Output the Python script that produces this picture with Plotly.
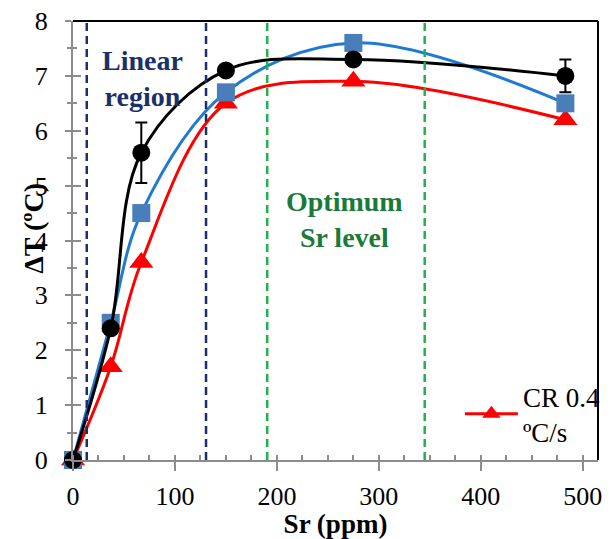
import plotly.graph_objects as go

# Sr addition (ppm) and undercooling ΔT (ºC) for three cooling rates
sr_ppm = [0, 37, 67, 150, 275, 483]
dt_black = [0, 2.4, 5.6, 7.1, 7.3, 7.0]
dt_black_err = [0, 0, 0.55, 0, 0, 0.3]
dt_blue = [0, 2.5, 4.5, 6.7, 7.6, 6.5]
dt_red = [0, 1.7, 3.6, 6.5, 6.9, 6.2]

# region boundaries (ppm)
linear_bounds = [13.5, 130.5]
optimum_bounds = [190.5, 345]

x_ticks = [0, 100, 200, 300, 400, 500]
y_ticks = [0, 1, 2, 3, 4, 5, 6, 7, 8]

FONT = "Liberation Serif"
GREY = "#8c8c8c"

fig = go.Figure()

fig.add_trace(go.Scatter(
    x=sr_ppm, y=dt_red, mode="lines+markers", name="CR 0.4<br>ºC/s",
    line=dict(color="#ff0000", width=3, shape="spline", smoothing=1),
    marker=dict(symbol="triangle-up", size=21, color="#ff0000"),
    cliponaxis=False,
))
fig.add_trace(go.Scatter(
    x=sr_ppm, y=dt_blue, mode="lines+markers", showlegend=False,
    line=dict(color="#1f7ad1", width=3, shape="spline", smoothing=1),
    marker=dict(symbol="square", size=18, color="#4a7ebb"),
    cliponaxis=False,
))
fig.add_trace(go.Scatter(
    x=sr_ppm, y=dt_black, mode="lines+markers", showlegend=False,
    line=dict(color="#000000", width=3, shape="spline", smoothing=1),
    marker=dict(symbol="circle", size=18, color="#000000"),
    error_y=dict(type="data", array=dt_black_err, visible=True,
                 color="#000000", thickness=2, width=6),
    cliponaxis=False,
))

# companion axes carry the inner half of the crossing tick marks
fig.add_trace(go.Scatter(x=[None], y=[None], xaxis="x2", yaxis="y2",
                         showlegend=False, hoverinfo="skip"))

for xv in linear_bounds:
    fig.add_shape(type="line", xref="x", yref="paper", x0=xv, x1=xv, y0=0, y1=1,
                  line=dict(color="#1b3068", width=2.5, dash="8px,5px"))
for xv in optimum_bounds:
    fig.add_shape(type="line", xref="x", yref="paper", x0=xv, x1=xv, y0=0, y1=1,
                  line=dict(color="#22b14c", width=2.5, dash="8px,5px"))

# black frame on top and right
fig.add_shape(type="line", xref="paper", yref="paper", x0=0, x1=1, y0=1, y1=1,
              line=dict(color="#000000", width=2))
fig.add_shape(type="line", xref="paper", yref="paper", x0=1, x1=1, y0=0, y1=1,
              line=dict(color="#000000", width=2))

fig.add_annotation(x=68, y=6.95, xref="x", yref="y", showarrow=False,
                   text="<b>Linear<br>region</b>",
                   font=dict(family=FONT, size=28, color="#1b3068"))
fig.add_annotation(x=266, y=4.38, xref="x", yref="y", showarrow=False,
                   text="<b>Optimum<br>Sr level</b>",
                   font=dict(family=FONT, size=28, color="#1a7a3a"))

# y-axis title sits over the tick-label column
fig.add_annotation(x=-0.075, y=0.528, xref="paper", yref="paper", showarrow=False,
                   text="<b>ΔT (ºC)</b>", textangle=-90,
                   xanchor="center", yanchor="middle",
                   font=dict(family=FONT, size=28, color="#000000"))

xr = [0, 515]
yr = [0, 8]

fig.update_layout(
    width=613, height=539,
    margin=dict(l=73, r=7, t=17, b=79),
    plot_bgcolor="white", paper_bgcolor="white",
    font=dict(family=FONT, size=26, color="#000000"),
    showlegend=True,
    legend=dict(x=0.737, y=0.2, xanchor="left", yanchor="top",
                bgcolor="rgba(0,0,0,0)", itemwidth=53,
                font=dict(family=FONT, size=27, color="#000000")),
    xaxis=dict(
        range=xr, tickvals=x_ticks, ticktext=[str(v) for v in x_ticks],
        showgrid=False, zeroline=False, showline=True, linecolor=GREY, linewidth=2,
        ticks="outside", ticklen=9, tickwidth=2, tickcolor=GREY, ticklabelstandoff=3,
        minor=dict(dtick=25, ticks="inside", ticklen=5, tickwidth=1.5, tickcolor=GREY),
        title=dict(text="<b>Sr (ppm)</b>", font=dict(family=FONT, size=27), standoff=2),
    ),
    yaxis=dict(
        range=yr, tickvals=y_ticks, ticktext=[str(v) for v in y_ticks],
        showgrid=False, zeroline=False, showline=True, linecolor=GREY, linewidth=2,
        ticks="outside", ticklen=6, tickwidth=2, tickcolor=GREY, ticklabelstandoff=12,
        minor=dict(dtick=0.5, ticks="outside", ticklen=4, tickwidth=1.5, tickcolor=GREY),
    ),
    xaxis2=dict(overlaying="x", anchor="y2", range=xr, tickvals=x_ticks,
                showticklabels=False, showgrid=False, zeroline=False, showline=False,
                ticks="inside", ticklen=5, tickwidth=2, tickcolor=GREY),
    yaxis2=dict(overlaying="y", anchor="x2", range=yr, tickvals=y_ticks,
                showticklabels=False, showgrid=False, zeroline=False, showline=False,
                ticks="inside", ticklen=8, tickwidth=2, tickcolor=GREY,
                minor=dict(dtick=0.5, ticks="inside", ticklen=4, tickwidth=1.5, tickcolor=GREY)),
)

fig.write_html("out.html")
